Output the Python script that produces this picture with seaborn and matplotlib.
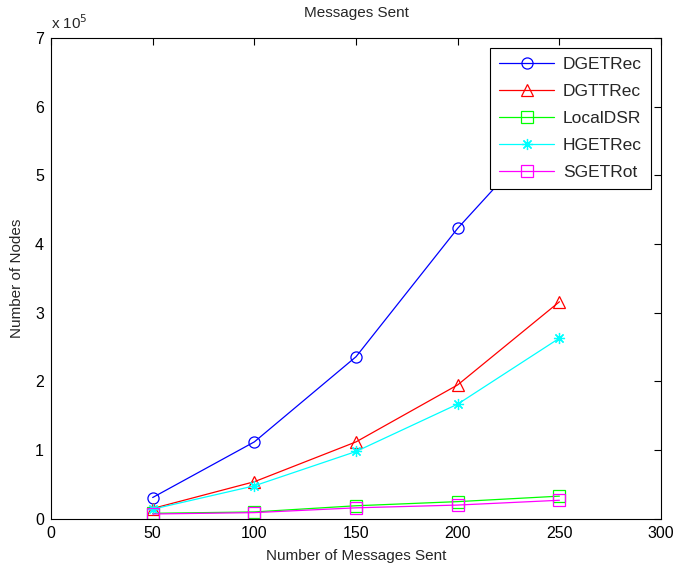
import pandas as pd
import seaborn as sns
import matplotlib
matplotlib.use('Agg')
import matplotlib.pyplot as plt
from matplotlib.ticker import FuncFormatter

nodes = [50, 100, 150, 200, 250]
dgetrec = [0.31e5, 1.12e5, 2.36e5, 4.23e5, 5.85e5]
dgttrec = [0.15e5, 0.54e5, 1.12e5, 1.95e5, 3.16e5]
localdsr = [0.08e5, 0.10e5, 0.19e5, 0.25e5, 0.33e5]
hgetrec = [0.14e5, 0.48e5, 0.98e5, 1.67e5, 2.63e5]
sgetrot = [0.07e5, 0.09e5, 0.16e5, 0.20e5, 0.27e5]

series = [
    ('DGETRec', dgetrec, '#0000ff', 'o'),
    ('DGTTRec', dgttrec, '#ff0000', '^'),
    ('LocalDSR', localdsr, '#00ff00', 's'),
    ('HGETRec', hgetrec, '#00ffff', (8, 2, 0)),
    ('SGETRot', sgetrot, '#ff00ff', 's'),
]

sns.set_style('white')
plt.rcParams['font.family'] = ['Liberation Sans', 'DejaVu Sans']
plt.rcParams['font.size'] = 10

fig = plt.figure(figsize=(6.76, 5.67), dpi=100)
ax = fig.add_axes([0.0754, 0.085, 0.9026, 0.848])

for name, vals, col, mk in series:
    df = pd.DataFrame({'x': nodes, 'y': vals})
    sns.lineplot(data=df, x='x', y='y', ax=ax, color=col, marker=mk,
                 mfc='none', mec=col, mew=0.9, ms=8,
                 lw=0.9, label=name)

ax.set_xlim(0, 300)
ax.set_ylim(0, 7e5)
ax.set_xticks(range(0, 301, 50))
ax.set_yticks([i * 1e5 for i in range(8)])
ax.yaxis.set_major_formatter(FuncFormatter(lambda v, p: f'{v / 1e5:g}'))
ax.tick_params(direction='in', length=5, top=True, right=True,
               labelsize=11.5, colors='black', width=0.8, pad=5)
for sp in ax.spines.values():
    sp.set_color('black')
    sp.set_linewidth(0.8)

ax.text(0.0, 1.012, 'x 10$^5$', transform=ax.transAxes, fontsize=11, ha='left', va='bottom')
ax.set_title('Messages Sent', fontsize=11, pad=15)
ax.set_xlabel('Number of Messages Sent', fontsize=11, labelpad=6)
ax.set_ylabel('Number of Nodes', fontsize=11, labelpad=8)

leg = ax.legend(loc='upper right', fontsize=12.5, frameon=True, fancybox=False,
                framealpha=1, edgecolor='black', borderpad=0.5,
                handlelength=3.2, labelspacing=0.68, handletextpad=0.5,
                borderaxespad=0.6)
leg.get_frame().set_linewidth(0.8)

fig.savefig('out.png', dpi=100)
